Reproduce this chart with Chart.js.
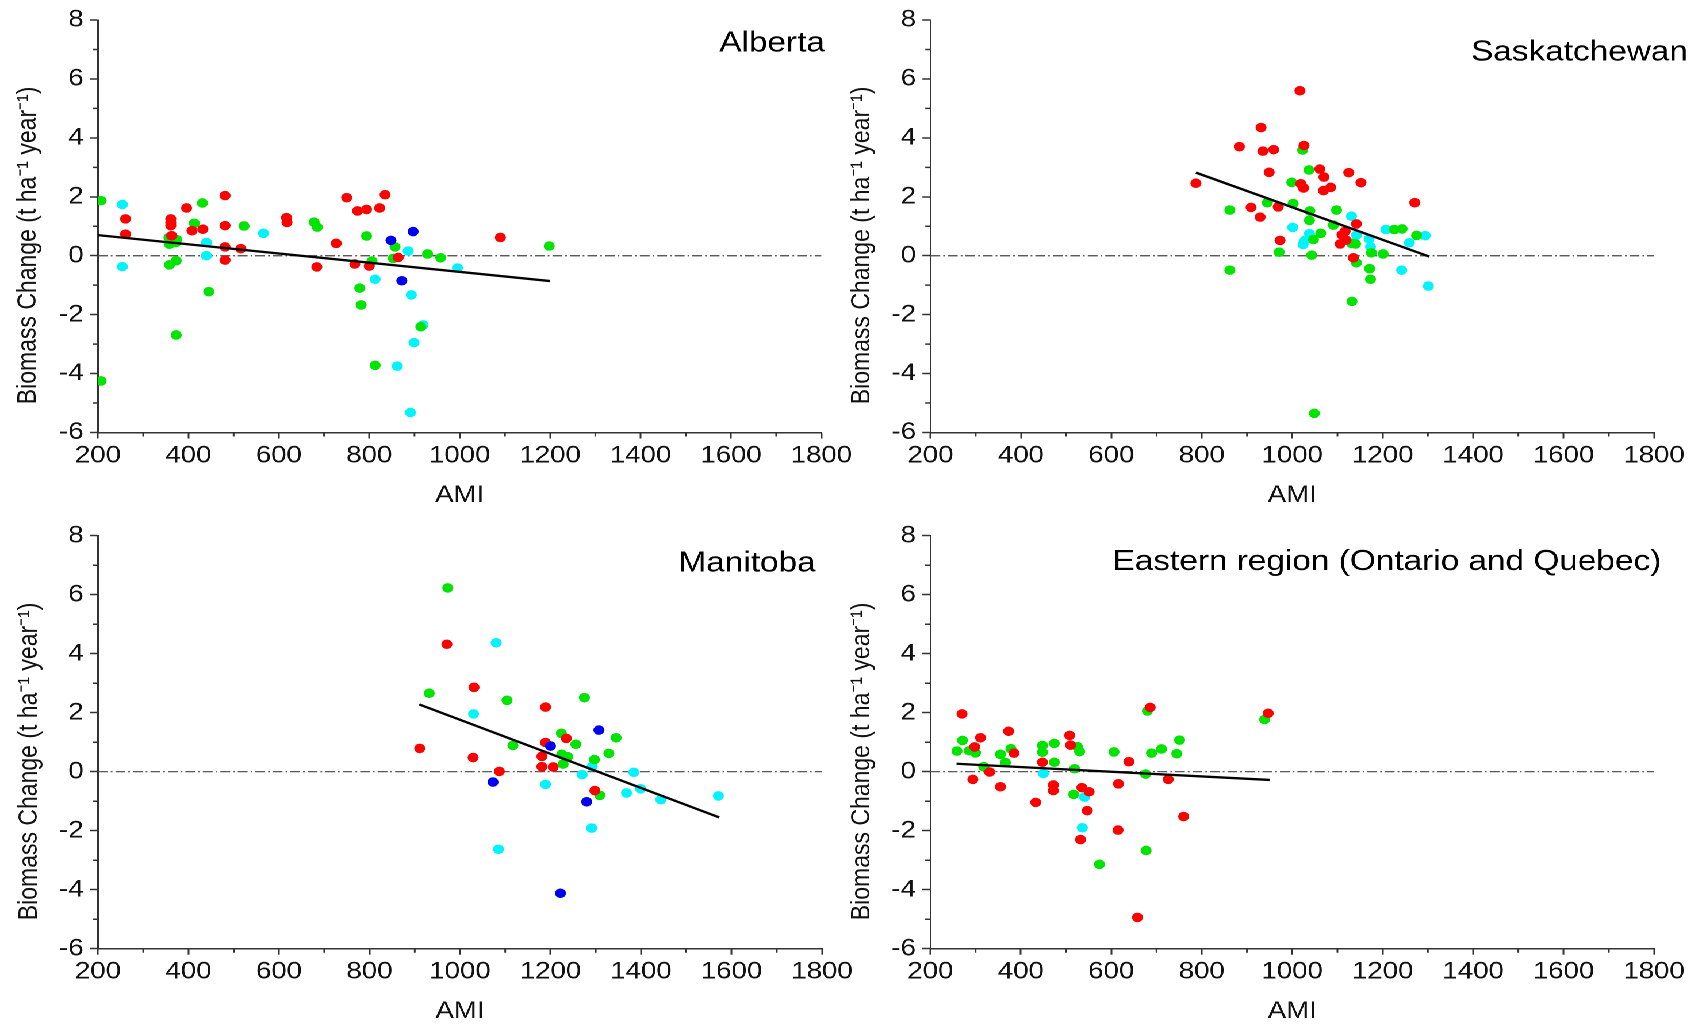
<!DOCTYPE html>
<html>
<head>
<meta charset="utf-8">
<script src="https://cdn.jsdelivr.net/npm/chart.js@4.4.1/dist/chart.umd.min.js"></script>
<style>
html,body{margin:0;padding:0;background:#fff;overflow:hidden;width:1701px;height:1026px;}
#stage{position:absolute;left:0;top:0;width:1480px;height:1026px;transform:scaleX(1.15);transform-origin:0 0;}
#stage canvas{position:absolute;}
</style>
</head>
<body>
<div id="stage">
<canvas id="c1" width="750" height="513" style="left:0px;top:0px;width:750px;height:513px"></canvas>
<canvas id="c2" width="759" height="513" style="left:720px;top:0px;width:759px;height:513px"></canvas>
<canvas id="c3" width="750" height="513" style="left:0px;top:513px;width:750px;height:513px"></canvas>
<canvas id="c4" width="759" height="513" style="left:720px;top:513px;width:759px;height:513px"></canvas>
</div>
<script>
// ---------- DATA (AMI, biomass change) ----------
const regionNames = ['Alberta', 'Saskatchewan', 'Manitoba', 'Eastern region (Ontario and Quebec)'];
const xTickRange = [200, 1800];
const yTickRange = [-6, 8];
const xAxisTitle = 'AMI';
const yAxisTitle = 'Biomass Change (t ha\u207B\u00B9 year\u207B\u00B9)';

const albertaRed = [[261,1.25],[261,0.73],[361,1.25],[361,1.12],[361,1.02],[363,0.68],[396,1.62],[408,0.85],[432,0.90],[481,2.04],[481,1.02],[481,0.30],[481,-0.15],[516,0.24],[617,1.29],[618,1.13],[684,-0.38],[727,0.42],[750,1.97],[774,1.52],[794,1.57],[823,1.62],[835,2.07],[768,-0.28],[800,-0.35],[864,-0.06],[1090,0.62]];
const albertaGreen = [[207,1.87],[207,-4.25],[357,0.62],[374,0.55],[358,0.39],[372,0.45],[358,-0.31],[373,-0.17],[373,-2.69],[431,1.79],[413,1.10],[445,-1.22],[523,1.01],[678,1.14],[685,0.97],[794,0.67],[806,-0.18],[779,-1.10],[782,-1.67],[813,-3.72],[857,0.30],[853,-0.09],[929,0.06],[958,-0.07],[914,-2.41],[1198,0.33]];
const albertaCyan = [[254,1.74],[254,-0.37],[440,0.45],[440,0.00],[566,0.76],[813,-0.80],[886,0.16],[995,-0.42],[893,-1.33],[919,-2.35],[899,-2.95],[862,-3.75],[891,-5.32]];
const albertaBlue = [[848,0.52],[897,0.82],[872,-0.85]];
const albertaFitX = [200, 1200];
const albertaFitY = [0.70, -0.86];

const saskRed = [[1017,5.60],[931,4.35],[883,3.70],[935,3.55],[959,3.60],[1026,3.74],[949,2.83],[787,2.46],[1061,2.94],[1070,2.67],[1125,2.82],[1152,2.48],[1019,2.44],[1025,2.30],[1069,2.21],[1085,2.32],[1271,1.80],[909,1.64],[969,1.66],[929,1.31],[1142,1.08],[1117,0.83],[1110,0.71],[1119,0.53],[1106,0.40],[973,0.52],[1135,-0.07]];
const saskGreen = [[1023,3.59],[1037,2.91],[999,2.49],[862,1.55],[945,1.80],[1002,1.77],[1039,1.52],[1098,1.55],[1038,1.20],[1091,1.04],[1063,0.76],[1047,0.55],[971,0.12],[1043,0.02],[1131,0.42],[1140,0.40],[1175,0.10],[1201,0.06],[1142,-0.24],[1171,-0.44],[1173,-0.80],[1132,-1.55],[862,-0.49],[1049,-5.35],[1226,0.89],[1243,0.91],[1275,0.69]];
const saskCyan = [[1001,0.96],[1131,1.34],[1038,0.75],[1024,0.38],[1028,0.52],[1142,0.70],[1170,0.57],[1173,0.30],[1207,0.89],[1294,0.68],[1259,0.44],[1242,-0.49],[1301,-1.03]];
const saskBlue = [];
const saskFitX = [787, 1303];
const saskFitY = [2.82, -0.03];

const manitobaRed = [[971,4.32],[1031,2.86],[1189,2.19],[911,0.79],[1029,0.48],[1087,0.01],[1189,0.99],[1235,1.13],[1181,0.52],[1181,0.17],[1206,0.16],[1298,-0.64]];
const manitobaGreen = [[973,6.23],[932,2.66],[1104,2.42],[1275,2.51],[1117,0.89],[1224,1.30],[1256,0.93],[1345,1.15],[1329,0.62],[1297,0.41],[1225,0.59],[1238,0.51],[1228,0.26],[1309,-0.80]];
const manitobaCyan = [[1080,4.37],[1030,1.96],[1292,0.17],[1270,-0.10],[1189,-0.43],[1384,-0.02],[1399,-0.58],[1368,-0.72],[1444,-0.95],[1571,-0.82],[1291,-1.91],[1085,-2.63]];
const manitobaBlue = [[1073,-0.35],[1200,0.87],[1307,1.41],[1280,-1.02],[1222,-4.12]];
const manitobaFitX = [910, 1573];
const manitobaFitY = [2.28, -1.55];

const easternRed = [[270,1.96],[298,0.84],[311,1.15],[331,-0.01],[294,-0.26],[373,1.37],[385,0.63],[355,-0.51],[448,0.32],[472,-0.45],[472,-0.64],[433,-1.04],[508,1.23],[510,0.90],[535,-0.54],[551,-0.68],[547,-1.32],[532,-2.30],[616,-0.41],[615,-1.98],[639,0.34],[686,2.18],[658,-4.94],[726,-0.26],[760,-1.52],[947,1.98]];
const easternGreen = [[271,1.06],[259,0.70],[286,0.71],[300,0.64],[318,0.17],[378,0.78],[355,0.59],[366,0.31],[448,0.89],[448,0.66],[474,0.96],[474,0.32],[525,0.85],[530,0.68],[519,0.10],[517,-0.77],[574,-3.14],[606,0.67],[680,2.06],[676,-0.08],[677,-2.67],[689,0.63],[711,0.77],[751,1.07],[745,0.61],[939,1.77]];
const easternCyan = [[450,-0.06],[541,-0.86],[536,-1.90]];
const easternBlue = [];
const easternFitX = [258, 950];
const easternFitY = [0.27, -0.28];

// ---------- STYLE ----------
const FONT = "'Liberation Sans', Arial, Helvetica, sans-serif";
const AXIS = '#333333';
const COLORS = {red: '#ff0000', green: '#00e400', cyan: '#00f4ff', blue: '#0000f0'};
const TITLE_SPACER = '      ';

const pairs = arr => arr.map(p => ({x: p[0], y: p[1]}));
const lineFrom = (xs, ys) => xs.map((x, i) => ({x: x, y: ys[i]}));

const minorTicks = {
  id: 'minorTicks',
  afterDatasetsDraw(chart) {
    const ctx = chart.ctx;
    const ca = chart.chartArea;
    const xs = chart.scales.x, ys = chart.scales.y;
    ctx.save();
    ctx.strokeStyle = AXIS;
    ctx.lineWidth = 1.5;
    ctx.beginPath();
    for (let i = 0; i < xs.ticks.length - 1; i++) {
      const v = (xs.ticks[i].value + xs.ticks[i + 1].value) / 2;
      const p = xs.getPixelForValue(v);
      ctx.moveTo(p, ca.bottom); ctx.lineTo(p, ca.bottom + 4);
    }
    for (let i = 0; i < ys.ticks.length - 1; i++) {
      const v = (ys.ticks[i].value + ys.ticks[i + 1].value) / 2;
      const p = ys.getPixelForValue(v);
      ctx.moveTo(ca.left, p); ctx.lineTo(ca.left - 4.5, p);
    }
    ctx.stroke();
    ctx.restore();
  }
};

const panelTitle = {
  id: 'panelTitle',
  afterDraw(chart, args, opts) {
    const ctx = chart.ctx;
    const ca = chart.chartArea;
    ctx.save();
    ctx.font = opts.size + 'px ' + FONT;
    ctx.fillStyle = '#000';
    ctx.textAlign = 'right';
    ctx.textBaseline = 'alphabetic';
    ctx.fillText(opts.text, ca.right + opts.dx, ca.top + opts.dy);
    ctx.restore();
  }
};

const plainNumber = v => String(v);

function makePanel(id, name, series, fitX, fitY, L) {
  const scatter = (data, color, order) => ({
    type: 'scatter', data: pairs(data), order: order,
    backgroundColor: color, borderColor: color,
    pointRadius: 4.8, pointHoverRadius: 4.8, pointBorderWidth: 0, showLine: false
  });
  const datasets = [
    {type: 'scatter', data: lineFrom(xTickRange, [0, 0]), showLine: true, order: 20,
     borderColor: '#444', borderWidth: 1.2, borderDash: [8.5, 2.6, 1.5, 2.6], pointRadius: 0, fill: false},
    scatter(series.cyan, COLORS.cyan, 9),
    scatter(series.green, COLORS.green, 8),
    scatter(series.red, COLORS.red, 7),
    scatter(series.blue, COLORS.blue, 6),
    {type: 'scatter', data: lineFrom(fitX, fitY), showLine: true, order: 0,
     borderColor: '#000', borderWidth: 2.3, pointRadius: 0, fill: false}
  ];
  return new Chart(document.getElementById(id), {
    type: 'scatter',
    data: {datasets: datasets},
    plugins: [minorTicks, panelTitle],
    options: {
      responsive: false,
      devicePixelRatio: 2,
      animation: false,
      events: [],
      layout: {padding: {left: 0, top: L.padTop, right: L.padRight, bottom: 0}},
      plugins: {
        legend: {display: false},
        tooltip: {enabled: false},
        panelTitle: {text: name, size: 29, dx: L.titleDx, dy: L.titleDy}
      },
      scales: {
        x: {
          type: 'linear', min: xTickRange[0], max: xTickRange[1],
          afterFit: s => { s.height = L.xH; },
          ticks: {stepSize: 200, autoSkip: false, maxRotation: 0, minRotation: 0,
                  callback: plainNumber,
                  color: '#111', padding: 3, font: {family: FONT, size: 24}},
          grid: {display: true, drawOnChartArea: false, drawTicks: true, tickLength: 6,
                 tickColor: AXIS, tickWidth: 1.5},
          border: {display: true, color: AXIS, width: 1.5},
          title: {display: true, text: xAxisTitle, color: '#111',
                  font: {family: FONT, size: 24, lineHeight: 1.2},
                  padding: {top: 0, bottom: L.xTitlePad}}
        },
        y: {
          type: 'linear', min: yTickRange[0], max: yTickRange[1],
          afterFit: s => { s.width = L.yW; },
          ticks: {stepSize: 2, autoSkip: false, callback: plainNumber,
                  color: '#111', padding: 5.5, font: {family: FONT, size: 24}},
          grid: {display: true, drawOnChartArea: false, drawTicks: true, tickLength: 7,
                 tickColor: AXIS, tickWidth: 1.5},
          border: {display: true, color: AXIS, width: 1.5},
          title: {display: true, text: yAxisTitle + TITLE_SPACER, color: '#111',
                  font: {family: FONT, size: 23, lineHeight: 1.2},
                  padding: {top: L.yTitlePad, bottom: 0}}
        }
      }
    }
  });
}

makePanel('c1', regionNames[0],
  {red: albertaRed, green: albertaGreen, cyan: albertaCyan, blue: albertaBlue},
  albertaFitX, albertaFitY,
  {yW: 85.2, padTop: 20, padRight: 35.7, xH: 80.5, yTitlePad: 11.1, xTitlePad: 3.1, titleDx: 3.1, titleDy: 31.7});
makePanel('c2', regionNames[1],
  {red: saskRed, green: saskGreen, cyan: saskCyan, blue: saskBlue},
  saskFitX, saskFitY,
  {yW: 89.1, padTop: 20, padRight: 40.7, xH: 80.5, yTitlePad: 15.8, xTitlePad: 3.1, titleDx: 29.5, titleDy: 40.7});
makePanel('c3', regionNames[2],
  {red: manitobaRed, green: manitobaGreen, cyan: manitobaCyan, blue: manitobaBlue},
  manitobaFitX, manitobaFitY,
  {yW: 85.2, padTop: 22.7, padRight: 35.2, xH: 77.3, yTitlePad: 11.9, xTitlePad: 0, titleDx: -5.5, titleDy: 36});
makePanel('c4', regionNames[3],
  {red: easternRed, green: easternGreen, cyan: easternCyan, blue: easternBlue},
  easternFitX, easternFitY,
  {yW: 89.0, padTop: 22.7, padRight: 40.7, xH: 77.3, yTitlePad: 15.8, xTitlePad: 0, titleDx: 6.3, titleDy: 34.3});
</script>
</body>
</html>
